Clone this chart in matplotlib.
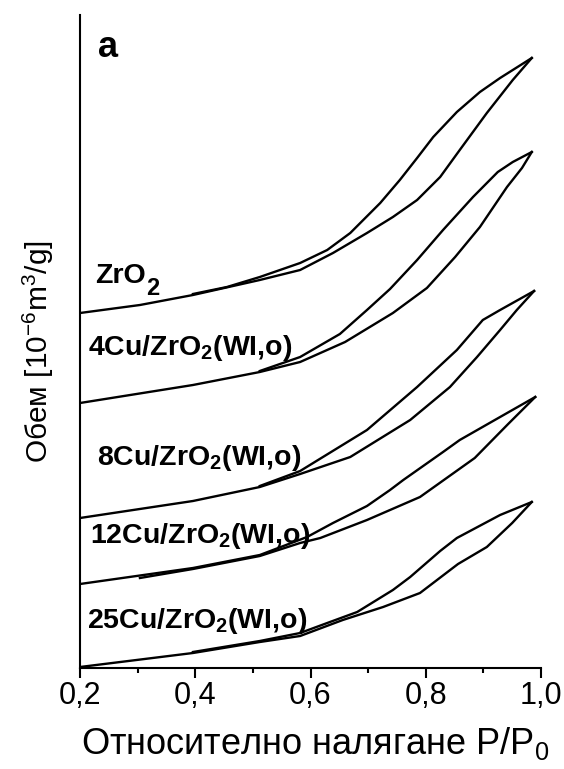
import matplotlib
matplotlib.use("Agg")
import matplotlib.pyplot as plt
from matplotlib.ticker import MultipleLocator

plt.rcParams['font.family'] = ['Liberation Sans', 'DejaVu Sans']
plt.rcParams['mathtext.fontset'] = 'custom'
plt.rcParams['mathtext.rm'] = 'Liberation Sans'
plt.rcParams['mathtext.bf'] = 'Liberation Sans:bold'
plt.rcParams['mathtext.default'] = 'regular'

# Изотерми (адсорбция / десорбция), отместени по вертикала
p_ads_zro2 = [0.200, 0.304, 0.396, 0.512, 0.582, 0.639, 0.698, 0.743, 0.785, 0.825, 0.859, 0.906, 0.951, 0.984]
v_ads_zro2 = [71.0, 72.6, 74.6, 77.6, 79.6, 83.0, 87.0, 90.2, 93.6, 98.2, 103.6, 111.0, 117.6, 122.0]
p_des_zro2 = [0.984, 0.929, 0.894, 0.854, 0.813, 0.785, 0.755, 0.721, 0.669, 0.629, 0.582, 0.512, 0.455, 0.396]
v_des_zro2 = [122.0, 118.0, 115.2, 111.2, 106.2, 102.0, 97.6, 93.0, 87.0, 83.6, 81.0, 78.2, 76.2, 74.8]

p_ads_4cu = [0.200, 0.396, 0.512, 0.582, 0.660, 0.743, 0.802, 0.851, 0.894, 0.941, 0.967, 0.984]
v_ads_4cu = [53.0, 56.6, 59.2, 61.2, 65.2, 71.0, 76.0, 82.2, 88.2, 96.2, 100.0, 103.2]
p_des_4cu = [0.984, 0.951, 0.925, 0.882, 0.830, 0.785, 0.738, 0.698, 0.651, 0.582, 0.512]
v_des_4cu = [103.2, 101.2, 99.2, 94.2, 87.6, 81.6, 75.8, 71.6, 66.8, 62.2, 59.4]

p_ads_8cu = [0.200, 0.396, 0.512, 0.582, 0.669, 0.773, 0.842, 0.889, 0.929, 0.958, 0.988]
v_ads_8cu = [30.0, 33.4, 36.2, 38.8, 42.2, 49.6, 56.2, 62.2, 67.6, 71.6, 75.4]
p_des_8cu = [0.988, 0.929, 0.899, 0.854, 0.785, 0.698, 0.582, 0.512]
v_des_8cu = [75.4, 71.6, 69.6, 63.6, 56.2, 47.6, 39.4, 36.4]

p_ads_12cu = [0.304, 0.396, 0.512, 0.582, 0.617, 0.698, 0.790, 0.885, 0.943, 0.990]
v_ads_12cu = [18.0, 19.8, 22.4, 25.0, 26.0, 29.6, 34.2, 42.0, 48.8, 54.2]
p_des_12cu = [0.990, 0.929, 0.859, 0.830, 0.761, 0.738, 0.698, 0.639, 0.594, 0.512, 0.396, 0.200]
v_des_12cu = [54.2, 50.2, 45.6, 43.2, 37.6, 35.6, 32.4, 29.0, 26.2, 22.6, 20.0, 16.8]

p_ads_25cu = [0.200, 0.396, 0.512, 0.582, 0.656, 0.726, 0.790, 0.856, 0.906, 0.950, 0.984]
v_ads_25cu = [0.2, 3.0, 5.2, 6.4, 9.6, 12.2, 15.0, 20.8, 24.2, 29.0, 33.2]
p_des_25cu = [0.984, 0.929, 0.854, 0.825, 0.773, 0.743, 0.681, 0.629, 0.582, 0.512, 0.396]
v_des_25cu = [33.2, 30.6, 26.0, 23.4, 18.2, 15.6, 11.2, 9.0, 7.0, 5.4, 3.2]

sample_labels = ['4Cu/ZrO$_\\mathbf{2}$(WI,o)', '8Cu/ZrO$_\\mathbf{2}$(WI,o)',
                 '12Cu/ZrO$_\\mathbf{2}$(WI,o)', '25Cu/ZrO$_\\mathbf{2}$(WI,o)']
label_x = [0.214, 0.230, 0.217, 0.212]
label_y = [62.6, 40.6, 25.0, 8.0]

x_ticks = [0.2, 0.4, 0.6, 0.8, 1.0]
x_ticklabels = ['0,2', '0,4', '0,6', '0,8', '1,0']

curves = [
    (p_ads_zro2, v_ads_zro2, p_des_zro2, v_des_zro2),
    (p_ads_4cu, v_ads_4cu, p_des_4cu, v_des_4cu),
    (p_ads_8cu, v_ads_8cu, p_des_8cu, v_des_8cu),
    (p_ads_12cu, v_ads_12cu, p_des_12cu, v_des_12cu),
    (p_ads_25cu, v_ads_25cu, p_des_25cu, v_des_25cu),
]

fig = plt.figure(figsize=(5.64, 7.69), dpi=100)
ax = fig.add_axes([80 / 564, 101 / 769, 461 / 564, 653 / 769])

for pa, va, pd, vd in curves:
    ax.plot(pa, va, color='black', lw=1.7, solid_joinstyle='round')
    ax.plot(pd, vd, color='black', lw=1.7, solid_joinstyle='round')

# ZrO2 - индексът е почти в пълен размер
t = ax.text(0.226, 77.0, 'ZrO', fontsize=20.5, fontweight='bold', ha='left', va='baseline')
ax.annotate('2', xy=(1, 0), xycoords=t, xytext=(0.5, -4), textcoords='offset points',
            fontsize=17, fontweight='bold', ha='left', va='baseline')

for txt, lx, ly in zip(sample_labels, label_x, label_y):
    ax.text(lx, ly, txt, fontsize=20.5, fontweight='bold', ha='left', va='baseline')

ax.text(0.231, 122.2, 'a', fontsize=26, fontweight='bold', ha='left', va='baseline')

ax.set_xlim(0.2, 1.0)
ax.set_ylim(0, 130.6)
ax.set_xticks(x_ticks)
ax.set_xticklabels(x_ticklabels)
ax.xaxis.set_minor_locator(MultipleLocator(0.1))
ax.tick_params(axis='x', which='major', direction='out', length=7, width=1.5, labelsize=22, pad=2)
ax.tick_params(axis='x', which='minor', direction='out', length=3.5, width=1.5)
ax.set_yticks([])

for side in ['top', 'right']:
    ax.spines[side].set_visible(False)
for side in ['left', 'bottom']:
    ax.spines[side].set_linewidth(1.5)

ax.set_xlabel('Относително налягане P/P$_0$', fontsize=26)
ax.set_ylabel('Обем [10$^{-6}$m$^3$/g]', fontsize=21.5)
ax.xaxis.set_label_coords(0.51, -0.087)
ax.yaxis.set_label_coords(-0.053, 0.484)

fig.savefig('out.png', dpi=100)
